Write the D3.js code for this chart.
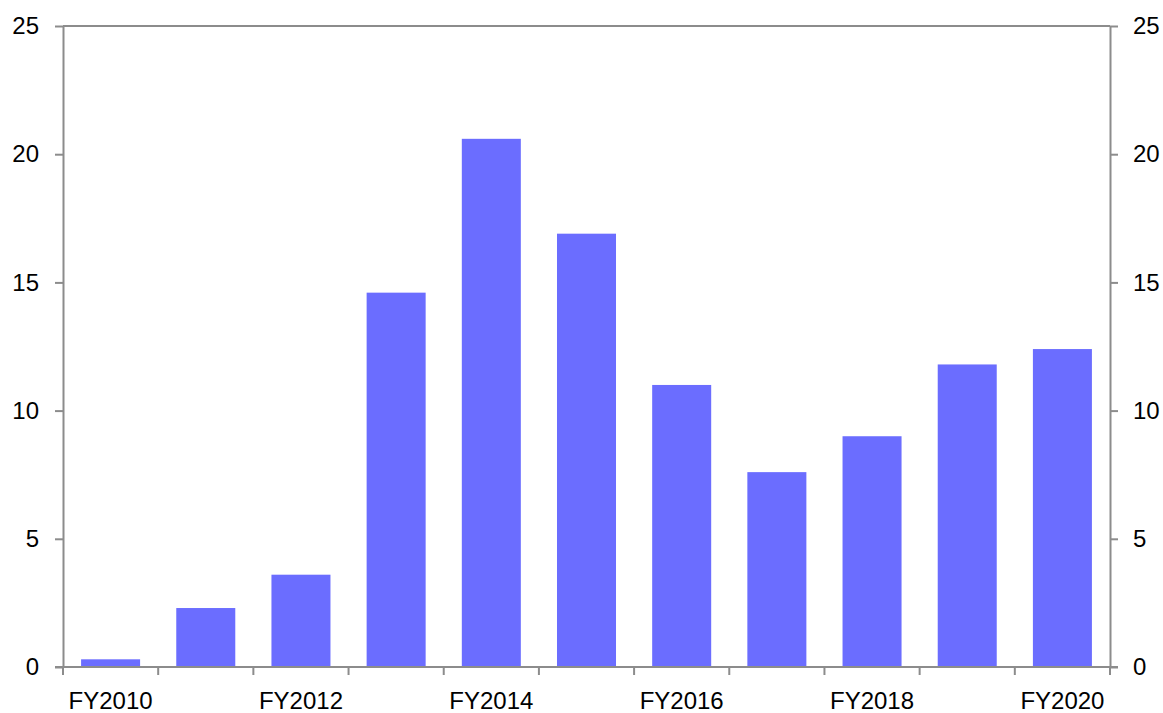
<!DOCTYPE html>
<html lang="en">
<head>
    <meta charset="UTF-8">
    <title>FY bars</title>
    <script src="https://d3js.org/d3.v7.min.js"></script>
    <style>
        body { margin: 0; background: #fff; }
        svg text { font-family: "Liberation Sans", Arial, sans-serif; font-size: 24px; fill: #000; }
        .axis path, .axis line { stroke: #8c8c8c; stroke-width: 2px; }
    </style>
</head>
<body>
<svg id="canvas" width="1163" height="713"></svg>
<script>
    let years = ["FY2010","FY2011","FY2012","FY2013","FY2014","FY2015","FY2016","FY2017","FY2018","FY2019","FY2020"];
    let values = [0.3, 2.3, 3.6, 14.6, 20.6, 16.9, 11.0, 7.6, 9.0, 11.8, 12.4];
    let yTicks = [0, 5, 10, 15, 20, 25];
    let shownLabels = ["FY2010","FY2012","FY2014","FY2016","FY2018","FY2020"];

    let svg = d3.select("svg");
    let plotLeft = 63, plotRight = 1110, plotTop = 26, plotBottom = 667;

    let x = d3.scaleBand().domain(years).range([plotLeft, plotRight]).paddingInner(0.38).paddingOuter(0.19);
    let xb = d3.scaleBand().domain(years).range([plotLeft, plotRight]);
    let y = d3.scaleLinear().domain([0, 25]).range([plotBottom, plotTop]);

    svg.append("g")
        .selectAll("rect")
        .data(years)
        .enter()
        .append("rect")
        .attr("x", d => x(d))
        .attr("width", x.bandwidth())
        .attr("y", (d, i) => y(values[i]))
        .attr("height", (d, i) => y(0) - y(values[i]))
        .attr("fill", "#6b6dff");

    // top border
    svg.append("line")
        .attr("x1", plotLeft).attr("x2", plotRight)
        .attr("y1", y(25)).attr("y2", y(25))
        .attr("stroke", "#8c8c8c").attr("stroke-width", 2);

    svg.append("g").attr("class", "axis")
        .attr("transform", "translate(" + plotLeft + ",0)")
        .call(d3.axisLeft(y).tickValues(yTicks).tickSize(8).tickSizeOuter(0).tickPadding(16));
    svg.append("g").attr("class", "axis")
        .attr("transform", "translate(" + plotRight + ",0)")
        .call(d3.axisRight(y).tickValues(yTicks).tickSize(8).tickSizeOuter(0).tickPadding(15));

    // x axis: ticks at band boundaries
    let bounds = years.map(d => xb(d)).concat([plotRight]);
    let xg = svg.append("g").attr("class", "axis");
    xg.append("line")
        .attr("x1", plotLeft - 8).attr("x2", plotRight + 8)
        .attr("y1", plotBottom).attr("y2", plotBottom);
    xg.selectAll("line.tk")
        .data(bounds)
        .enter()
        .append("line")
        .attr("class", "tk")
        .attr("x1", d => d).attr("x2", d => d)
        .attr("y1", plotBottom).attr("y2", plotBottom + 8);
    svg.append("g")
        .selectAll("text")
        .data(shownLabels)
        .enter()
        .append("text")
        .attr("x", d => xb(d) + xb.bandwidth() / 2)
        .attr("y", plotBottom + 42)
        .attr("text-anchor", "middle")
        .text(d => d);
</script>
</body>
</html>
